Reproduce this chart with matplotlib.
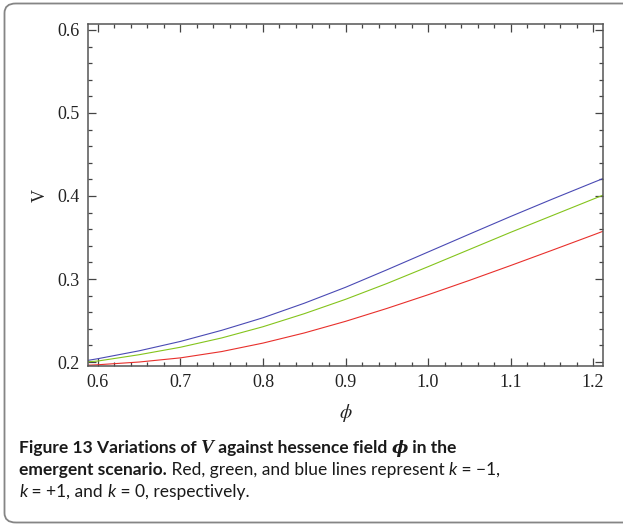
import numpy as np
import matplotlib
matplotlib.use("Agg")
import matplotlib.pyplot as plt
from matplotlib.patches import FancyBboxPatch
from matplotlib.ticker import MultipleLocator

plt.rcParams["mathtext.fontset"] = "stix"

# values
phi = [0.588, 0.60, 0.65, 0.70, 0.75, 0.80, 0.85, 0.90, 0.95, 1.00, 1.05, 1.10, 1.15, 1.20, 1.212]
v_red = [0.1962, 0.1967, 0.2000, 0.2050, 0.2126, 0.2228, 0.2350, 0.2490, 0.2645, 0.2810,
         0.2983, 0.3162, 0.3345, 0.3530, 0.3575]
v_green = [0.2003, 0.2012, 0.2088, 0.2178, 0.2290, 0.2425, 0.2582, 0.2755, 0.2945, 0.3148,
           0.3355, 0.3562, 0.3762, 0.3962, 0.4010]
v_blue = [0.2020, 0.2040, 0.2135, 0.2248, 0.2382, 0.2533, 0.2708, 0.2900, 0.3110, 0.3325,
          0.3540, 0.3753, 0.3960, 0.4162, 0.4210]

x_ticks = [0.6, 0.7, 0.8, 0.9, 1.0, 1.1, 1.2]
y_ticks = [0.2, 0.3, 0.4, 0.5, 0.6]

W, H = 623, 527
fig = plt.figure(figsize=(W / 100, H / 100), dpi=100)

# rounded frame around the figure + caption
box = FancyBboxPatch((4.5 / W, 4.5 / H), 700 / W, (H - 8) / H,
                     boxstyle="round,pad=0,rounding_size=0.018",
                     transform=fig.transFigure, fill=False,
                     edgecolor="#858585", linewidth=1.3)
fig.patches.append(box)

ax = fig.add_axes([88 / W, 1 - 366 / H, (603 - 88) / W, (366 - 24) / H])
ax.plot(phi, v_red, color="#e8302c", lw=0.8)
ax.plot(phi, v_green, color="#84c41c", lw=0.8)
ax.plot(phi, v_blue, color="#4a4ab4", lw=0.8)

ax.set_xlim(0.588, 1.212)
ax.set_ylim(0.1952, 0.6072)
ax.set_xticks(x_ticks)
ax.set_yticks(y_ticks)
ax.xaxis.set_minor_locator(MultipleLocator(0.02))
ax.yaxis.set_minor_locator(MultipleLocator(0.02))
ax.tick_params(which="both", direction="in", top=True, right=True, color="#444444",
               width=0.9, labelsize=13, labelcolor="#222222")
ax.tick_params(which="major", length=6, pad=6)
ax.tick_params(which="minor", length=3)
for lbl in ax.get_xticklabels() + ax.get_yticklabels():
    lbl.set_family("Liberation Serif")
for s in ax.spines.values():
    s.set_color("#555555")
    s.set_linewidth(1.1)

ax.set_ylabel("V", family="Liberation Serif", fontsize=13, color="#222222", labelpad=6)
ax.set_xlabel(r"$\phi$", fontsize=14, color="#222222", labelpad=8)


def line_of_text(pieces, x0, y0):
    # place text pieces one after another on the same baseline
    r = fig.canvas.get_renderer()
    x = x0
    for s, kw in pieces:
        t = fig.text(x / W, 1 - y0 / H, s, va="baseline", ha="left", color="#1a1a1a", **kw)
        x += t.get_window_extent(renderer=r).width


fs = 12.5
bold = dict(family="Lato", weight="bold", fontsize=fs)
reg = dict(family="Lato", fontsize=fs)
kit = dict(family="Lato", style="italic", fontsize=fs)

line_of_text([("Figure 13 Variations of ", bold),
              ("V", dict(family="Liberation Serif", style="italic", weight="bold", fontsize=14)),
              (" against hessence field ", bold),
              ("ϕ", dict(family="DejaVu Serif", style="italic", weight="bold", fontsize=12.5)),
              (" in the", bold)], 19, 453)
line_of_text([("emergent scenario.", bold),
              (" Red, green, and blue lines represent ", reg),
              ("k", kit), (" = \u22121,", reg)], 19, 475)
line_of_text([("k", kit), (" = +1, and ", reg), ("k", kit), (" = 0, respectively.", reg)],
             19, 497)

fig.savefig("out.png", dpi=100)
